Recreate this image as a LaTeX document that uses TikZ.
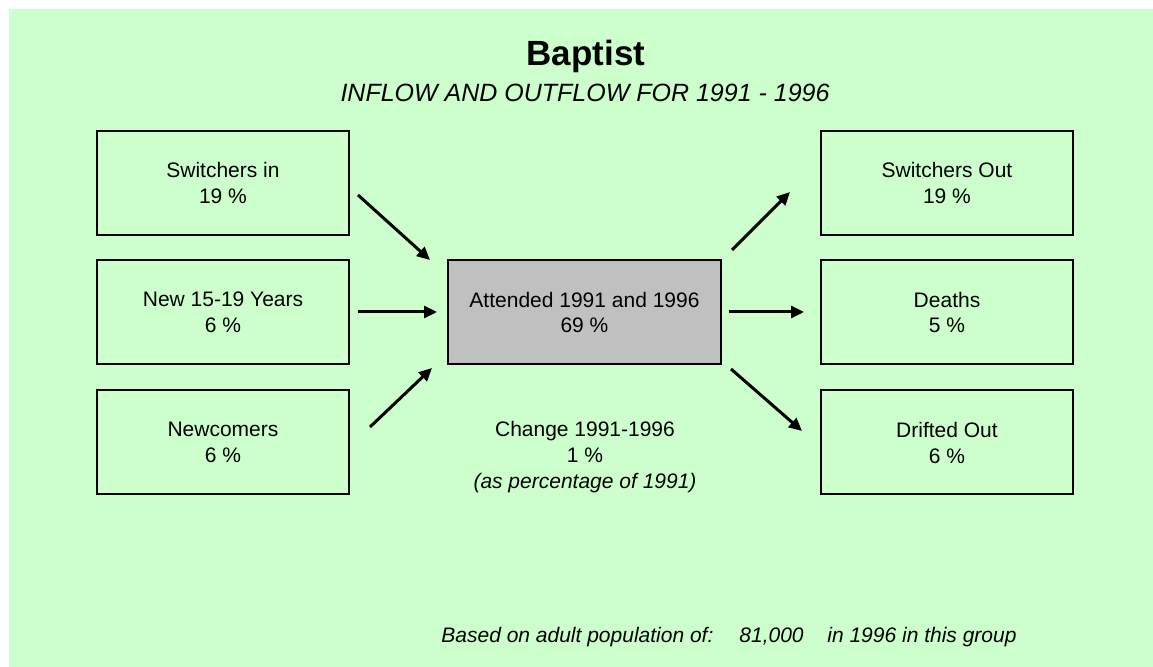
\documentclass[tikz,border=0pt]{standalone}
\usepackage{fontspec}
\setmainfont{Liberation Sans}
\usetikzlibrary{arrows.meta}
\definecolor{bggreen}{HTML}{CCFFCC}
\definecolor{boxgray}{HTML}{C0C0C0}
\tikzset{
  flowbox/.style={draw=black, line width=1pt, fill=bggreen, minimum width=126pt, minimum height=52pt, inner sep=0pt, align=center, font=\fontsize{10.5}{13}\selectfont},
  midbox/.style={flowbox, fill=boxgray, minimum width=136.5pt, minimum height=52pt},
  flowarrow/.style={line width=1.5pt, -{Triangle[length=6.5pt,width=6pt]}},
  plaintext/.style={inner sep=0pt, font=\fontsize{10.5}{13}\selectfont}
}
\begin{document}
\begin{tikzpicture}[x=0.5pt,y=-0.5pt]
\useasboundingbox (0,0) rectangle (1153,667);
\fill[bggreen] (9,9) rectangle (1153,667);

\node[inner sep=0pt, anchor=base, font=\fontsize{17.5}{20}\selectfont\bfseries] (title) at (586,66) {Baptist};
\node[inner sep=0pt, anchor=base, font=\fontsize{12.5}{15}\selectfont\itshape] (subtitle) at (585,102) {INFLOW AND OUTFLOW FOR 1991 - 1996};

\node[flowbox] (swin) at (223,183) {Switchers in\\19 \%};
\node[flowbox] (new) at (223,312.5) {New 15-19 Years\\6 \%};
\node[flowbox] (newc) at (223,442.5) {Newcomers\\6 \%};

\node[midbox] (att) at (584.5,312.5) {Attended 1991 and 1996\\69 \%};

\node[flowbox] (swout) at (947,183) {Switchers Out\\19 \%};
\node[flowbox] (deaths) at (947,312.5) {Deaths\\5 \%};
\node[flowbox] (drift) at (947,442.5) {Drifted Out\\6 \%};

\node[plaintext, align=center] (change) at (585,457) {Change 1991-1996\\1 \%\\\textit{(as percentage of 1991)}};

\coordinate (a1s) at (358,195);
\coordinate (a1e) at (430,260);
\coordinate (a2s) at (358,312);
\coordinate (a2e) at (437,312);
\coordinate (a3s) at (370,427);
\coordinate (a3e) at (432,368);
\coordinate (a4s) at (732,250);
\coordinate (a4e) at (790,192);
\coordinate (a5s) at (729,312);
\coordinate (a5e) at (804,312);
\coordinate (a6s) at (731,369);
\coordinate (a6e) at (802,431);

\draw[flowarrow] (a1s) -- (a1e);
\draw[flowarrow] (a2s) -- (a2e);
\draw[flowarrow] (a3s) -- (a3e);
\draw[flowarrow] (a4s) -- (a4e);
\draw[flowarrow] (a5s) -- (a5e);
\draw[flowarrow] (a6s) -- (a6e);

\node[plaintext, anchor=base west, font=\fontsize{10.5}{13}\selectfont\itshape] (foot1) at (441,643) {Based on adult population of:};
\node[plaintext, anchor=base west, font=\fontsize{10.5}{13}\selectfont\itshape] (foot2) at (739,643) {81,000};
\node[plaintext, anchor=base west, font=\fontsize{10.5}{13}\selectfont\itshape] (foot3) at (827,643) {in 1996 in this group};
\end{tikzpicture}
\end{document}
